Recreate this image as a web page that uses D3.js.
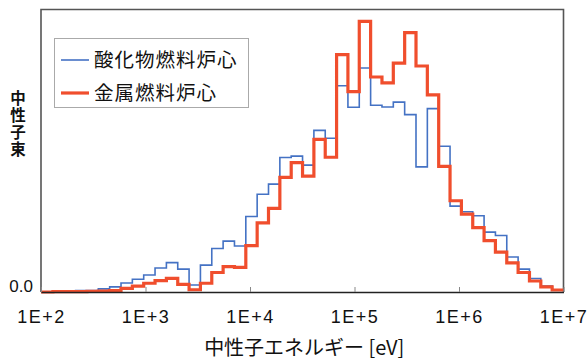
<!DOCTYPE html>
<html>
<head>
<meta charset="utf-8">
<script src="https://cdn.jsdelivr.net/npm/d3@7"></script>
<style>
  html, body { margin: 0; padding: 0; background: #fff; }
  svg { display: block; }
</style>
</head>
<body>
<svg id="chart" width="588" height="361"></svg>
<script>
// Energy group boundaries [eV], lethargy width 0.25 (lowest bin clipped at 100 eV)
const energyEdges = [
  100, 130.07, 167.02, 214.45, 275.36, 353.58, 454.00, 582.95, 748.52, 961.12,
  1234.1, 1584.6, 2034.7, 2612.6, 3354.6, 4307.4, 5530.8, 7101.7, 9118.8,
  11709, 15034, 19305, 24788, 31828, 40868, 52475, 67379, 86517,
  111090, 142640, 183160, 235180, 301970, 387740, 497870, 639280, 820850,
  1054000, 1353400, 1737700, 2231300, 2865000, 3678800, 4723700, 6065300, 7788000,
  10000000
];

// Group flux per bin (relative units), lowest energy first
const oxideFlux = [
  0.001, 0.001, 0.002, 0.005, 0.005, 0.011, 0.018, 0.032, 0.045, 0.060,
  0.085, 0.104, 0.081, 0.025, 0.095, 0.154, 0.180, 0.163, 0.267, 0.346,
  0.382, 0.476, 0.481, 0.449, 0.572, 0.544, 0.730, 0.654, 0.793, 0.661,
  0.655, 0.672, 0.628, 0.443, 0.649, 0.516, 0.304, 0.284, 0.270, 0.212,
  0.200, 0.124, 0.081, 0.048, 0.021, 0.007
];
const metalFlux = [
  0.000, 0.001, 0.001, 0.001, 0.002, 0.003, 0.005, 0.013, 0.021, 0.031,
  0.040, 0.048, 0.027, 0.008, 0.031, 0.069, 0.090, 0.087, 0.164, 0.245,
  0.296, 0.406, 0.458, 0.410, 0.540, 0.477, 0.840, 0.709, 0.958, 0.761,
  0.740, 0.810, 0.918, 0.800, 0.698, 0.445, 0.323, 0.276, 0.228, 0.182,
  0.141, 0.103, 0.069, 0.039, 0.018, 0.007
];

const xTickValues = [1e2, 1e3, 1e4, 1e5, 1e6, 1e7];
const yTickValues = [0];
const seriesNames = ["酸化物燃料炉心", "金属燃料炉心"];
const xTitle = "中性子エネルギー [eV]";
const yTitle = "中性子束";

const colors = { oxide: "#4472C4", metal: "#F04E2D" };
const latin = "'Liberation Sans', Arial, sans-serif";
const cjk = "'Noto Sans CJK JP', 'Noto Sans', sans-serif";

const plot = { left: 41, right: 563.5, top: 9.5, bottom: 292 };

const svg = d3.select("#chart");

const x = d3.scaleLog().domain([1e2, 1e7]).range([plot.left, plot.right]);
const y = d3.scaleLinear().domain([0, 1]).range([plot.bottom, plot.top]);

// Step outline: each bin value held from its lower edge to its upper edge
function stepPoints(values) {
  const pts = values.map((v, i) => [energyEdges[i], v]);
  pts.push([energyEdges[energyEdges.length - 1], values[values.length - 1]]);
  return pts;
}
const stepLine = d3.line()
  .x(d => x(d[0]))
  .y(d => y(d[1]))
  .curve(d3.curveStepAfter);

// Frame (top, right, left)
svg.append("path")
  .attr("d", `M${plot.left},${plot.bottom} V${plot.top} H${plot.right} V${plot.bottom}`)
  .attr("fill", "none")
  .attr("stroke", "#555")
  .attr("stroke-width", 1.6);

// Series
svg.append("path")
  .datum(stepPoints(oxideFlux))
  .attr("d", stepLine)
  .attr("fill", "none")
  .attr("stroke", colors.oxide)
  .attr("stroke-width", 1.6);

svg.append("path")
  .datum(stepPoints(metalFlux))
  .attr("d", stepLine)
  .attr("fill", "none")
  .attr("stroke", colors.metal)
  .attr("stroke-width", 3.2);

// X axis with inward ticks
const xAxis = d3.axisBottom(x)
  .tickValues(xTickValues)
  .tickFormat(d => "1E+" + Math.round(Math.log10(d)))
  .tickSizeInner(-5)
  .tickSizeOuter(0)
  .tickPadding(18);

const gx = svg.append("g")
  .attr("transform", `translate(0,${plot.bottom})`)
  .call(xAxis);
gx.select(".domain").attr("stroke", "#222").attr("stroke-width", 1.6);
gx.selectAll(".tick line").attr("stroke", "#888");
gx.selectAll(".tick text")
  .attr("font-family", latin)
  .attr("font-size", 18)
  .attr("letter-spacing", 1.5)
  .attr("fill", "#111");

// Y axis: baseline label only
const yAxis = d3.axisLeft(y)
  .tickValues(yTickValues)
  .tickFormat(d3.format(".1f"))
  .tickSize(0)
  .tickPadding(8);
const gy = svg.append("g")
  .attr("transform", `translate(${plot.left},0)`)
  .call(yAxis);
gy.select(".domain").remove();
gy.selectAll(".tick text")
  .attr("font-family", latin)
  .attr("font-size", 17)
  .attr("dy", "-0.05em")
  .attr("fill", "#111");

// Axis titles
svg.append("text")
  .attr("x", (plot.left + plot.right) / 2 + 2)
  .attr("y", 355)
  .attr("text-anchor", "middle")
  .attr("font-family", cjk)
  .attr("font-size", 20)
  .attr("fill", "#111")
  .text(xTitle);

// Vertical (upright) y-axis title
svg.append("text")
  .attr("x", 18)
  .attr("y", 90)
  .attr("font-family", cjk)
  .attr("font-size", 15.5)
  .attr("font-weight", "bold")
  .attr("letter-spacing", 1.5)
  .attr("fill", "#111")
  .style("writing-mode", "vertical-rl")
  .style("text-orientation", "upright")
  .text(yTitle);

// Legend
const legend = svg.append("g");
legend.append("rect")
  .attr("x", 54.5).attr("y", 38.5)
  .attr("width", 194).attr("height", 69)
  .attr("fill", "#fff")
  .attr("stroke", "#aaa")
  .attr("stroke-width", 1);

const legendItems = [
  { name: seriesNames[0], color: colors.oxide, width: 1.6 },
  { name: seriesNames[1], color: colors.metal, width: 3.2 }
];
const rows = legend.selectAll("g.row")
  .data(legendItems)
  .join("g")
  .attr("class", "row")
  .attr("transform", (d, i) => `translate(0,${60 + i * 33})`);
rows.append("line")
  .attr("x1", 61).attr("x2", 89)
  .attr("stroke", d => d.color)
  .attr("stroke-width", d => d.width);
rows.append("text")
  .attr("x", 94)
  .attr("y", 7)
  .attr("font-family", cjk)
  .attr("font-size", 19.5)
  .attr("letter-spacing", 1)
  .attr("fill", "#111")
  .text(d => d.name);
</script>
</body>
</html>
